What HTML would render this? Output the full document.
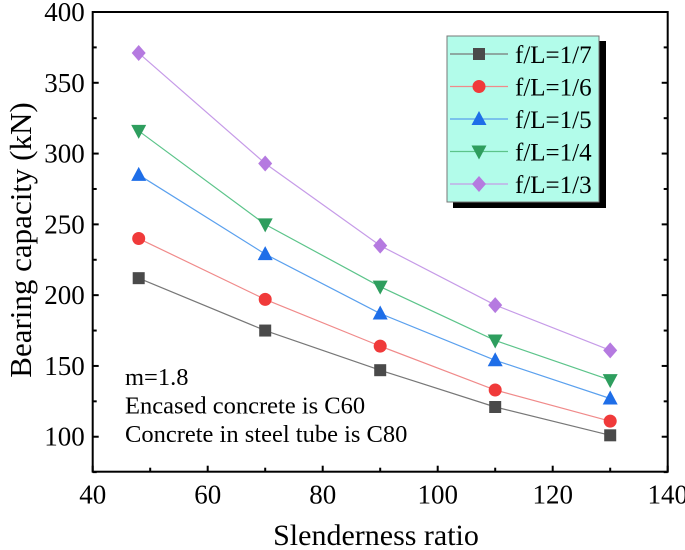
<!DOCTYPE html>
<html><head><meta charset="utf-8"><style>
body{margin:0;background:#fff}
svg{display:block;font-family:"Liberation Serif",serif}
</style></head><body>
<svg id="chart" width="685" height="550" viewBox="0 0 685 550">
<rect x="0" y="0" width="685" height="550" fill="#fff"/>
<g id="marks"></g>
<g id="axes"></g>
</svg>
<script>
const xValues = [48, 70, 90, 110, 130];
const seriesNames = ["f/L=1/7", "f/L=1/6", "f/L=1/5", "f/L=1/4", "f/L=1/3"];
const s17 = [212, 175, 147, 121, 101];
const s16 = [240, 197, 164, 133, 111];
const s15 = [285, 229, 187, 154, 127];
const s14 = [316, 250, 206, 168, 140];
const s13 = [371, 293, 235, 193, 161];
const xTicks = [40, 60, 80, 100, 120, 140];
const yTicks = [100, 150, 200, 250, 300, 350, 400];

const L=92.7,R=667.7,T=12,B=471.7,XMIN=40,XMAX=140,YMIN=75.3,YMAX=400;
const sx=v=>L+(v-XMIN)/(XMAX-XMIN)*(R-L);
const sy=v=>B-(v-YMIN)/(YMAX-YMIN)*(B-T);
const NS="http://www.w3.org/2000/svg";
function mk(t,a,p){const e=document.createElementNS(NS,t);for(const k in a)e.setAttribute(k,a[k]);p.appendChild(e);return e;}
const marks=document.getElementById('marks'),axes=document.getElementById('axes');
const series=[s17,s16,s15,s14,s13];
const lineCols=["#777","#f08a8a","#5aa0ee","#5cc48a","#c69be8"];
const fillCols=["#4a4a4a","#f03a3a","#1e6ee8","#2e9e5e","#b57ae0"];
const shapes=["square","circle","up","down","diamond"];
function marker(shape,x,y,col,p){
  let e;
  if(shape==="square") e=mk('rect',{x:x-6,y:y-6,width:12,height:12,fill:col},p);
  else if(shape==="circle") e=mk('circle',{cx:x,cy:y,r:6.5,fill:col},p);
  else if(shape==="up") e=mk('polygon',{points:`${x},${y-8} ${x-7.5},${y+6} ${x+7.5},${y+6}`,fill:col},p);
  else if(shape==="down") e=mk('polygon',{points:`${x},${y+8} ${x-7.5},${y-6} ${x+7.5},${y-6}`,fill:col},p);
  else e=mk('polygon',{points:`${x},${y-8} ${x+7},${y} ${x},${y+8} ${x-7},${y}`,fill:col},p);
  return e;
}
series.forEach((s,i)=>{
  const g=mk('g',{},marks);
  
  
  const pl=mk('polyline',{points:s.map((v,j)=>sx(xValues[j])+','+sy(v)).join(' '),fill:'none',stroke:lineCols[i],'stroke-width':1.2},g);
  
  
  s.forEach((v,j)=>{
    const m=marker(shapes[i],sx(xValues[j]),sy(v),fillCols[i],g);
    
    
  });
});
const fr=mk('rect',{x:L,y:T,width:R-L,height:B-T,fill:'none',stroke:'#000','stroke-width':2},axes);


xTicks.forEach((v,i)=>{
  const x=sx(v);
  mk('line',{x1:x,y1:B,x2:x,y2:B-6,stroke:'#000','stroke-width':2},axes);
  if(i<xTicks.length-1){const xm=sx(v+10);mk('line',{x1:xm,y1:B,x2:xm,y2:B-4,stroke:'#000','stroke-width':2},axes);}
  const t=mk('text',{x:x,y:B+32,'text-anchor':'middle','font-size':27},axes);
  t.textContent=v;
  
  
});
for(let v=75;v<=400;v+=25){
  const y=sy(v);const major=v%50===0;const len=major?6:4;
  mk('line',{x1:L,y1:y,x2:L+len,y2:y,stroke:'#000','stroke-width':2},axes);
  mk('line',{x1:R,y1:y,x2:R-len,y2:y,stroke:'#000','stroke-width':2},axes);
}
yTicks.forEach(v=>{
  const t=mk('text',{x:L-8,y:sy(v)+9,'text-anchor':'end','font-size':27},axes);
  t.textContent=v;
  
  
});
const xt=mk('text',{x:376,y:545,'text-anchor':'middle','font-size':30},axes);
xt.textContent='Slenderness ratio';


const yt=mk('text',{x:0,y:0,'text-anchor':'middle','font-size':31,transform:'translate(31,240) rotate(-90)'},axes);
yt.textContent='Bearing capacity (kN)';


['m=1.8','Encased concrete is C60','Concrete in steel tube is C80'].forEach((s,i)=>{
  const t=mk('text',{x:125,y:385+i*28.5,'font-size':24.5},axes);
  t.textContent=s;
  
  
});
const lg=mk('g',{},axes);


mk('rect',{x:453,y:41,width:153,height:167,fill:'#000'},lg);
mk('rect',{x:447,y:36,width:152,height:166,fill:'#b2fcea',stroke:'#777','stroke-width':1},lg);
seriesNames.forEach((n,i)=>{
  const y=54+i*32.5;
  const g=mk('g',{},lg);
  
  
  mk('line',{x1:450,y1:y,x2:508,y2:y,stroke:lineCols[i],'stroke-width':1.2},g);
  marker(shapes[i],479,y,fillCols[i],g);
  const t=mk('text',{x:515,y:y+9,'font-size':25},g);
  t.textContent=n;
});
</script>
</body></html>
